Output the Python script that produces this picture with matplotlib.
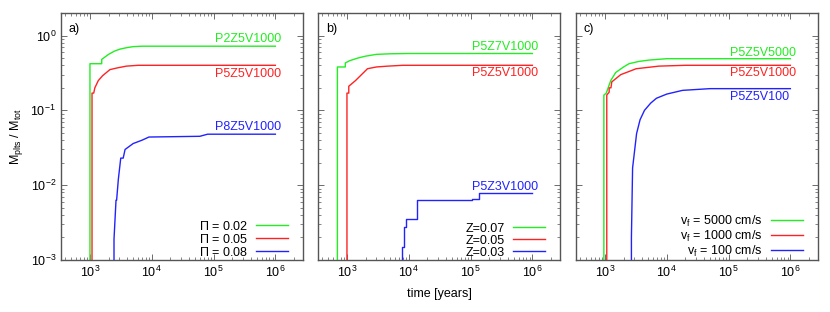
import numpy as np
import matplotlib
matplotlib.use("Agg")
import matplotlib.pyplot as plt

plt.rcParams['font.family'] = ['Liberation Sans', 'DejaVu Sans']
plt.rcParams['mathtext.fontset'] = 'custom'
plt.rcParams['mathtext.rm'] = 'Liberation Sans'
plt.rcParams['mathtext.it'] = 'Liberation Sans:italic'
plt.rcParams['font.size'] = 9

# colours (gnuplot style)
GREEN = '#22ee22'
RED = '#ff2222'
BLUE = '#2222ff'

# ---- panel a: different Pi ----
a_green_t = [1000, 1000, 1550, 1550, 2000, 2500, 3100, 4000, 5000, 7000, 1e4, 1e5, 1e6]
a_green_y = [1e-4, 0.42, 0.42, 0.48, 0.56, 0.62, 0.66, 0.69, 0.71, 0.72, 0.72, 0.72, 0.72]
a_red_t = [1080, 1080, 1150, 1200, 1365, 1600, 2100, 2800, 3900, 6000, 1e4, 1e6]
a_red_y = [1e-4, 0.17, 0.17, 0.20, 0.25, 0.29, 0.35, 0.37, 0.39, 0.40, 0.40, 0.40]
a_blue_t = [2450, 2450, 2640, 2700, 2880, 3150, 3450, 3700, 5000, 7000, 9000, 6e4, 8e4, 1e6]
a_blue_y = [1e-4, 0.0019, 0.0063, 0.0063, 0.012, 0.023, 0.023, 0.030, 0.036, 0.040, 0.044, 0.045, 0.048, 0.048]

# ---- panel b: different Z ----
b_green_t = [700, 700, 940, 940, 1100, 1500, 2000, 3000, 5000, 1e4, 1e6]
b_green_y = [1e-4, 0.38, 0.38, 0.43, 0.46, 0.50, 0.53, 0.56, 0.57, 0.575, 0.575]
b_red_t = [1000, 1000, 1070, 1070, 1375, 2150, 3000, 4600, 8000, 1e6]
b_red_y = [1e-4, 0.17, 0.17, 0.21, 0.25, 0.36, 0.38, 0.39, 0.40, 0.40]
b_blue_t = [7900, 7900, 8400, 8400, 9000, 9000, 13700, 13700, 1.05e5, 1.05e5, 1.35e5, 1.35e5, 1e6]
b_blue_y = [1e-4, 0.0015, 0.0015, 0.0028, 0.0028, 0.0035, 0.0035, 0.0063, 0.0063, 0.0065, 0.0065, 0.0079, 0.0079]

# ---- panel c: different v_f ----
c_green_t = [960, 960, 1050, 1240, 1490, 2000, 2450, 3500, 5200, 1e4, 1e6]
c_green_y = [1e-4, 0.16, 0.17, 0.25, 0.32, 0.38, 0.42, 0.45, 0.47, 0.49, 0.49]
c_red_t = [1070, 1070, 1170, 1170, 1250, 1290, 1800, 3200, 7500, 2e4, 1e6]
c_red_y = [1e-4, 0.16, 0.175, 0.20, 0.20, 0.24, 0.30, 0.36, 0.39, 0.40, 0.40]
c_blue_t = [2680, 2680, 2800, 3250, 3700, 4360, 5500, 6800, 1e4, 1.8e4, 5e4, 1e6]
c_blue_y = [1e-4, 0.002, 0.017, 0.049, 0.075, 0.10, 0.125, 0.145, 0.165, 0.185, 0.195, 0.195]

panels = [
    dict(tag='a)',
         series=[(a_green_t, a_green_y, GREEN, r'$\Pi$ = 0.02', 'P2Z5V1000', 0.90),
                 (a_red_t, a_red_y, RED, r'$\Pi$ = 0.05', 'P5Z5V1000', 0.31),
                 (a_blue_t, a_blue_y, BLUE, r'$\Pi$ = 0.08', 'P8Z5V1000', 0.059)]),
    dict(tag='b)',
         series=[(b_green_t, b_green_y, GREEN, 'Z=0.07', 'P5Z7V1000', 0.70),
                 (b_red_t, b_red_y, RED, 'Z=0.05', 'P5Z5V1000', 0.32),
                 (b_blue_t, b_blue_y, BLUE, 'Z=0.03', 'P5Z3V1000', 0.0095)]),
    dict(tag='c)',
         series=[(c_green_t, c_green_y, GREEN, r'v$_{\rm f}$ = 5000 cm/s', 'P5Z5V5000', 0.58),
                 (c_red_t, c_red_y, RED, r'v$_{\rm f}$ = 1000 cm/s', 'P5Z5V1000', 0.32),
                 (c_blue_t, c_blue_y, BLUE, r'v$_{\rm f}$ = 100 cm/s', 'P5Z5V100', 0.15)]),
]

fig = plt.figure(figsize=(8.3, 3.12), dpi=100)
lefts = [61, 318, 576]
for i, p in enumerate(panels):
    ax = fig.add_axes([lefts[i] / 830, 52 / 312, 242 / 830, 247 / 312])
    for t, y, col, leg, name, ly in p['series']:
        ax.plot(t, y, color=col, lw=1.0, label=leg)
        ax.text(1.05e5, ly, name, color=col, fontsize=9, ha='left', va='center')
    ax.set_xscale('log')
    ax.set_yscale('log')
    ax.set_xlim(340, 2.8e6)
    ax.set_ylim(1e-3, 2)
    ax.set_xticks([1e3, 1e4, 1e5, 1e6])
    ax.set_yticks([1e-3, 1e-2, 1e-1, 1e0])
    ax.tick_params(which='both', direction='in', top=True, right=True,
                   color='#555555', labelsize=9)
    ax.tick_params(which='major', length=4, width=0.6)
    ax.tick_params(which='minor', length=2, width=0.5)
    for s in ax.spines.values():
        s.set_color('#555555')
        s.set_linewidth(1.0)
    if i > 0:
        ax.tick_params(labelleft=False)
    ax.text(0.033, 0.935, p['tag'], transform=ax.transAxes, fontsize=9,
            ha='left', va='center')
    ax.legend(loc='lower right', bbox_to_anchor=(0.94, 0.005), frameon=False,
              markerfirst=False, fontsize=9, handlelength=2.6, handletextpad=0.65,
              labelspacing=0.0, borderpad=0.0, borderaxespad=0.0)
    if i == 0:
        ax.set_ylabel(r'M$_{\rm plts}$ / M$_{\rm tot}$', fontsize=9, labelpad=4)
    if i == 1:
        ax.set_xlabel('time [years]', fontsize=9, labelpad=6)

fig.savefig('out.png', dpi=100)
